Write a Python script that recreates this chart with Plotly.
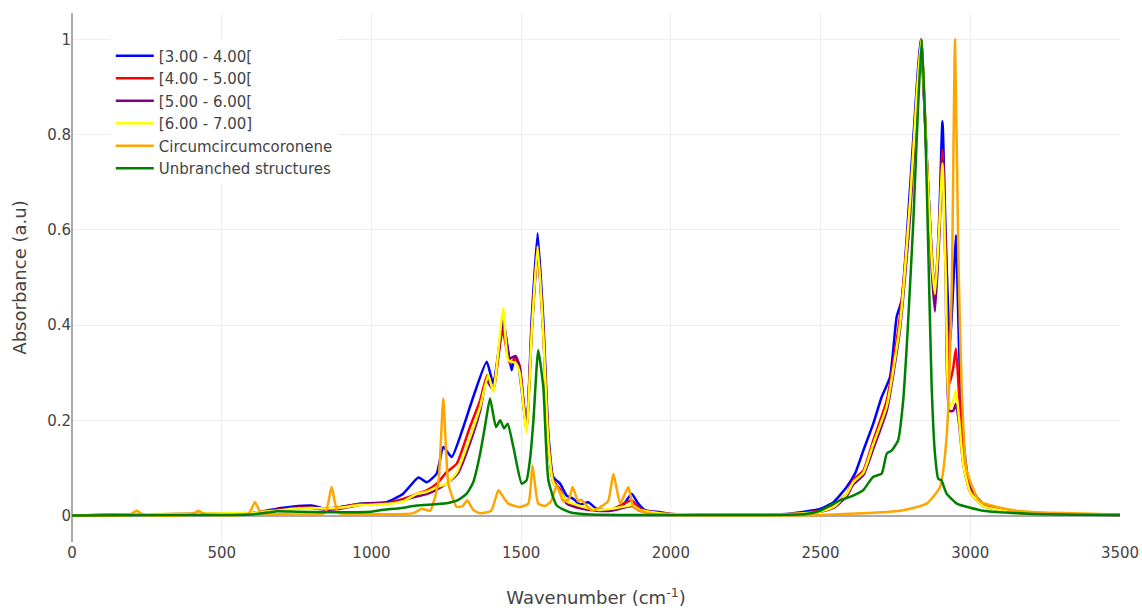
import plotly.graph_objects as go

# ---- data ----
series_names = ["[3.00 - 4.00[", "[4.00 - 5.00[", "[5.00 - 6.00[", "[6.00 - 7.00]",
                "Circumcircumcoronene", "Unbranched structures"]
series_colors = ["blue", "red", "purple", "yellow", "orange", "green"]

wn_blue = [0, 200, 400, 600, 680, 740, 800, 850, 900, 960, 1050, 1106, 1157, 1185, 1218, 1240,
           1268, 1307, 1340, 1385, 1407, 1440, 1468, 1479, 1490, 1518, 1535, 1555, 1574, 1591,
           1607, 1630, 1652, 1674, 1697, 1724, 1752, 1797, 1840, 1869, 1891, 1914, 1964, 2000,
           2200, 2400, 2498, 2543, 2587, 2615, 2643, 2676, 2704, 2732, 2754, 2771, 2799, 2821,
           2834, 2854, 2871, 2882, 2896, 2907, 2918, 2932, 2943, 2952, 2963, 2976, 2999, 3043,
           3155, 3300, 3500]
abs_blue = [0.0, 0.002, 0.003, 0.005, 0.014, 0.019, 0.021, 0.014, 0.018, 0.025, 0.028, 0.046,
            0.080, 0.070, 0.088, 0.144, 0.123, 0.186, 0.249, 0.323, 0.277, 0.405, 0.305, 0.333,
            0.319, 0.185, 0.41, 0.593, 0.41, 0.172, 0.081, 0.067, 0.042, 0.035, 0.023, 0.028,
            0.014, 0.011, 0.021, 0.046, 0.025, 0.011, 0.007, 0.003, 0.002, 0.004, 0.014, 0.028,
            0.06, 0.088, 0.137, 0.193, 0.249, 0.291, 0.417, 0.453, 0.69, 0.90, 1.0, 0.76, 0.55,
            0.46, 0.62, 0.828, 0.586, 0.354, 0.48, 0.589, 0.34, 0.165, 0.06, 0.025, 0.007, 0.003,
            0.001]

wn_red = [0, 200, 400, 600, 680, 740, 800, 850, 900, 960, 1050, 1106, 1150, 1185, 1220, 1251,
          1285, 1329, 1363, 1387, 1407, 1438, 1462, 1482, 1495, 1518, 1535, 1555, 1574, 1591,
          1607, 1630, 1652, 1697, 1752, 1800, 1852, 1869, 1897, 1950, 2000, 2200, 2400, 2498,
          2543, 2587, 2609, 2643, 2676, 2721, 2765, 2799, 2821, 2836, 2854, 2871, 2882, 2896,
          2907, 2918, 2930, 2943, 2952, 2963, 2976, 2999, 3043, 3155, 3300, 3500]
abs_red = [0.0, 0.002, 0.003, 0.005, 0.012, 0.016, 0.017, 0.014, 0.018, 0.024, 0.026, 0.035,
           0.045, 0.053, 0.068, 0.091, 0.109, 0.186, 0.242, 0.295, 0.263, 0.39, 0.32, 0.33,
           0.315, 0.18, 0.39, 0.565, 0.39, 0.16, 0.074, 0.055, 0.028, 0.018, 0.011, 0.012,
           0.028, 0.032, 0.014, 0.006, 0.003, 0.002, 0.003, 0.01, 0.02, 0.045, 0.074, 0.095,
           0.158, 0.242, 0.417, 0.66, 0.88, 1.0, 0.76, 0.55, 0.46, 0.60, 0.768, 0.55, 0.277,
           0.31, 0.351, 0.25, 0.13, 0.055, 0.022, 0.006, 0.003, 0.001]

wn_purple = [0, 200, 400, 600, 680, 740, 800, 850, 900, 960, 1050, 1106, 1150, 1185, 1220, 1251,
             1290, 1340, 1363, 1385, 1405, 1440, 1462, 1482, 1495, 1518, 1535, 1555, 1574, 1591,
             1607, 1630, 1652, 1697, 1752, 1800, 1852, 1869, 1897, 1950, 2000, 2200, 2400, 2498,
             2543, 2587, 2609, 2643, 2676, 2721, 2765, 2799, 2821, 2836, 2854, 2871, 2882, 2896,
             2907, 2918, 2930, 2943, 2952, 2963, 2976, 2999, 3043, 3155, 3300, 3500]
abs_purple = [0.0, 0.002, 0.003, 0.005, 0.011, 0.015, 0.016, 0.012, 0.015, 0.022, 0.025, 0.032,
              0.040, 0.045, 0.055, 0.067, 0.09, 0.172, 0.22, 0.284, 0.265, 0.41, 0.33, 0.335,
              0.31, 0.185, 0.38, 0.555, 0.38, 0.15, 0.07, 0.05, 0.025, 0.015, 0.01, 0.01, 0.018,
              0.02, 0.01, 0.005, 0.003, 0.002, 0.003, 0.008, 0.016, 0.04, 0.065, 0.085, 0.14,
              0.22, 0.39, 0.63, 0.86, 1.0, 0.75, 0.52, 0.428, 0.58, 0.747, 0.50, 0.22, 0.22,
              0.235, 0.19, 0.11, 0.05, 0.02, 0.006, 0.003, 0.001]

wn_yellow = [0, 200, 400, 600, 680, 740, 800, 850, 900, 960, 1050, 1106, 1150, 1185, 1220, 1251,
             1285, 1318, 1363, 1390, 1407, 1440, 1457, 1482, 1495, 1518, 1535, 1555, 1574, 1591,
             1607, 1630, 1652, 1697, 1752, 1800, 1852, 1869, 1897, 1950, 2000, 2200, 2400, 2498,
             2543, 2587, 2609, 2643, 2676, 2721, 2765, 2799, 2821, 2836, 2854, 2871, 2882, 2896,
             2907, 2918, 2930, 2943, 2952, 2963, 2976, 2999, 3043, 3155, 3300, 3500]
abs_yellow = [0.0, 0.002, 0.004, 0.006, 0.010, 0.014, 0.016, 0.015, 0.017, 0.022, 0.024, 0.030,
              0.045, 0.05, 0.06, 0.067, 0.09, 0.144, 0.228, 0.295, 0.26, 0.435, 0.326, 0.32,
              0.30, 0.175, 0.38, 0.566, 0.38, 0.15, 0.07, 0.05, 0.03, 0.02, 0.012, 0.014, 0.02,
              0.022, 0.012, 0.006, 0.003, 0.002, 0.003, 0.008, 0.018, 0.045, 0.07, 0.09, 0.15,
              0.23, 0.40, 0.66, 0.88, 1.0, 0.76, 0.54, 0.465, 0.60, 0.74, 0.50, 0.226, 0.24,
              0.263, 0.20, 0.11, 0.05, 0.02, 0.006, 0.003, 0.001]

wn_orange = [0, 190, 216, 240, 400, 422, 445, 590, 611, 632, 700, 845, 867, 889, 1000, 1140, 1168,
             1196, 1223, 1240, 1257, 1285, 1305, 1320, 1340, 1363, 1400, 1424, 1440, 1457, 1496,
             1524, 1538, 1557, 1580, 1600, 1619, 1641, 1660, 1672, 1690, 1700, 1738, 1790, 1808,
             1831, 1858, 1875, 1922, 2000, 2500, 2766, 2854, 2899, 2921, 2938, 2949, 2960, 2971,
             2988, 3032, 3155, 3500]
abs_orange = [0.0, 0.001, 0.01, 0.001, 0.002, 0.01, 0.002, 0.004, 0.028, 0.004, 0.003, 0.006,
              0.06, 0.006, 0.003, 0.005, 0.014, 0.01, 0.067, 0.246, 0.067, 0.018, 0.02, 0.032,
              0.012, 0.005, 0.01, 0.053, 0.039, 0.025, 0.018, 0.025, 0.105, 0.025, 0.02, 0.03,
              0.063, 0.03, 0.035, 0.06, 0.03, 0.033, 0.01, 0.03, 0.088, 0.025, 0.06, 0.018,
              0.005, 0.001, 0.001, 0.01, 0.025, 0.06, 0.165, 0.48, 1.0, 0.55, 0.27, 0.095, 0.03,
              0.01, 0.002]

wn_green = [0, 300, 600, 685, 750, 850, 1000, 1029, 1100, 1151, 1251, 1290, 1318, 1340, 1363,
            1380, 1396, 1416, 1430, 1443, 1455, 1474, 1502, 1518, 1530, 1541, 1557, 1574, 1591,
            1619, 1663, 1730, 2000, 2300, 2450, 2498, 2565, 2609, 2642, 2675, 2704, 2721, 2738,
            2759, 2776, 2787, 2796, 2810, 2825, 2838, 2849, 2860, 2871, 2882, 2893, 2904, 2912,
            2921, 2955, 3043, 3193, 3500]
abs_green = [0.0, 0.001, 0.002, 0.009, 0.008, 0.007, 0.008, 0.011, 0.016, 0.021, 0.026, 0.033,
             0.046, 0.07, 0.13, 0.19, 0.246, 0.186, 0.20, 0.183, 0.193, 0.144, 0.067, 0.074,
             0.12, 0.20, 0.347, 0.27, 0.074, 0.021, 0.007, 0.002, 0.001, 0.001, 0.003, 0.01,
             0.032, 0.042, 0.053, 0.081, 0.088, 0.13, 0.137, 0.158, 0.242, 0.347, 0.45, 0.62,
             0.85, 1.0, 0.83, 0.55, 0.27, 0.13, 0.077, 0.074, 0.06, 0.046, 0.025, 0.01, 0.004,
             0.001]

x_ticks = [0, 500, 1000, 1500, 2000, 2500, 3000, 3500]
y_ticks = [0, 0.2, 0.4, 0.6, 0.8, 1]

all_x = [wn_blue, wn_red, wn_purple, wn_yellow, wn_orange, wn_green]
all_y = [abs_blue, abs_red, abs_purple, abs_yellow, abs_orange, abs_green]

fig = go.Figure()
for name, color, xs, ys in zip(series_names, series_colors, all_x, all_y):
    fig.add_trace(go.Scatter(x=xs, y=ys, mode="lines", name=name,
                             line=dict(color=color, width=2.5, shape="spline", smoothing=0.5)))

fig.update_layout(
    width=1142, height=610,
    template="plotly_white",
    margin=dict(l=72, r=22, t=13, b=68),
    font=dict(family="Verdana, DejaVu Sans, sans-serif", size=15, color="#444"),
    legend=dict(x=0.037, y=0.95, xanchor="left", yanchor="top", bgcolor="white",
                font=dict(size=15), itemwidth=38),
    xaxis=dict(range=[0, 3500], tickvals=x_ticks, automargin=False,
               title=dict(text="Wavenumber (cm<sup>-1</sup>)", standoff=30),
               gridcolor="#eeeeee", zeroline=True, zerolinecolor="#aaaaaa", zerolinewidth=2,
               showline=False),
    yaxis=dict(range=[-0.0556, 1.0556], tickvals=y_ticks, automargin=False,
               title=dict(text="Absorbance (a.u)"),
               gridcolor="#eeeeee", zeroline=True, zerolinecolor="#aaaaaa", zerolinewidth=2,
               showline=False),
)

fig.write_html("out.html")
